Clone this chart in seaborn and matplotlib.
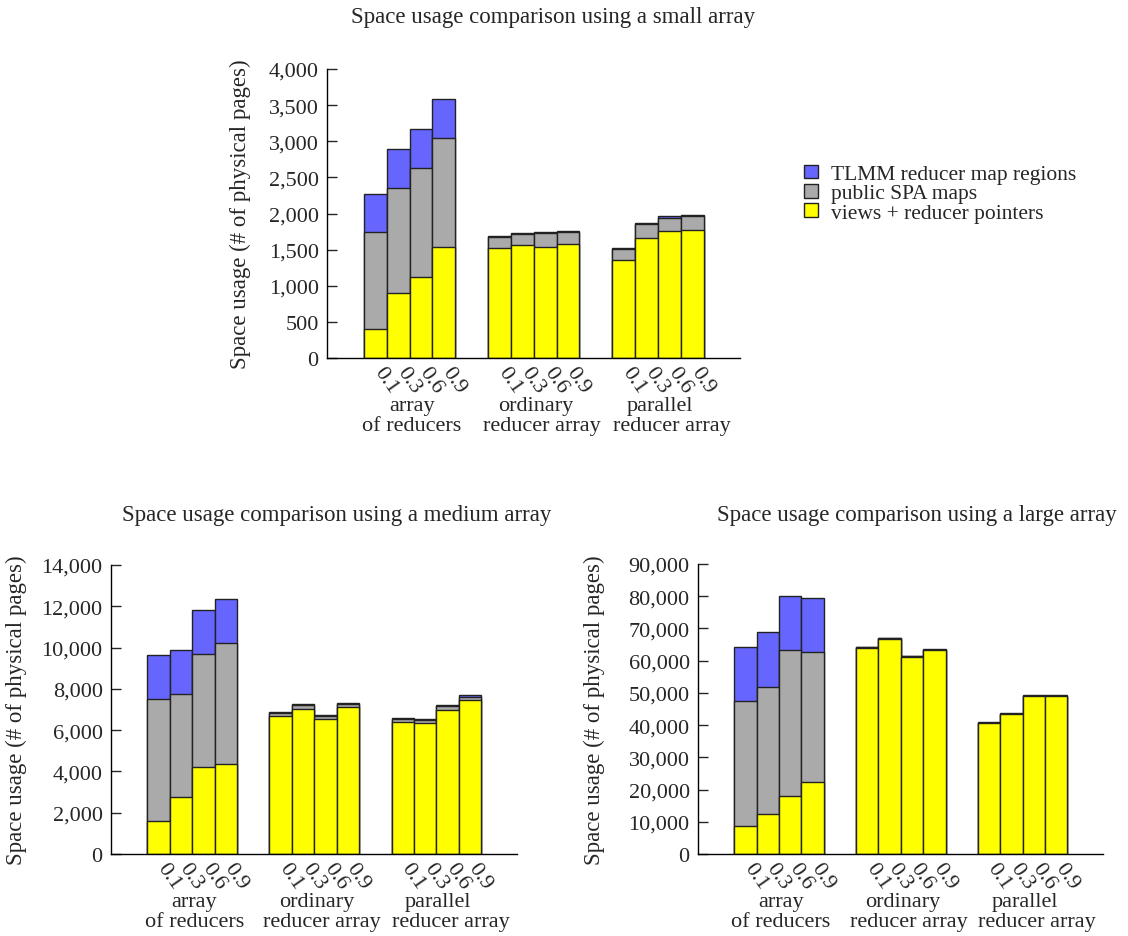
import matplotlib
matplotlib.use("Agg")
import matplotlib.pyplot as plt
import seaborn as sns
import pandas as pd
from matplotlib.patches import Patch

sns.set_style("white")
plt.rcParams["font.family"] = ["Liberation Serif", "DejaVu Serif"]

GROUPS = ["array\nof reducers", "ordinary\nreducer array", "parallel\nreducer array"]
FRACTIONS = ["0.1", "0.3", "0.6", "0.9"]
LAYERS = ["views + reducer pointers", "public SPA maps", "TLMM reducer map regions"]
COLORS = {"views + reducer pointers": "#ffff00",
          "public SPA maps": "#aaaaaa",
          "TLMM reducer map regions": "#6666ff"}

# values per group, per fraction (0.1, 0.3, 0.6, 0.9)
small_views = [[396, 903, 1120, 1539], [1516, 1558, 1535, 1581], [1350, 1659, 1751, 1774]]
small_spa = [[1346, 1447, 1507, 1502], [157, 161, 198, 161], [162, 189, 189, 194]]
small_tlmm = [[530, 544, 543, 549], [18, 18, 14, 18], [13, 18, 19, 18]]

medium_views = [[1597, 2758, 4226, 4339], [6677, 7032, 6532, 7097], [6387, 6355, 7000, 7452]]
medium_spa = [[5903, 4984, 5451, 5871], [146, 178, 162, 177], [145, 145, 161, 161]]
medium_tlmm = [[2129, 2129, 2146, 2129], [48, 48, 32, 65], [49, 48, 65, 81]]

large_views = [[8710, 12339, 18145, 22396], [64078, 66878, 61279, 63249], [40541, 43341, 48940, 48940]]
large_spa = [[38675, 39401, 45104, 40231], [160, 110, 110, 160], [160, 160, 160, 160]]
large_tlmm = [[17004, 17004, 16901, 16901], [150, 100, 100, 150], [150, 150, 150, 150]]

# title, data, y max, y step, axes box (px: left, top, right, bottom), title pos, ylabel right edge
PANELS = [
    ("Space usage comparison using a small array", small_views, small_spa, small_tlmm,
     4000, 500, [327, 70, 740, 359], (553, 18), 251),
    ("Space usage comparison using a medium array", medium_views, medium_spa, medium_tlmm,
     14000, 2000, [111, 566, 517, 855], (337, 516), 27),
    ("Space usage comparison using a large array", large_views, large_spa, large_tlmm,
     90000, 10000, [698, 565, 1103, 855], (917, 516), 605),
]
# second line of the group labels sits a little right of the group centre
LINE2_SHIFT = [2, 8, 14]

W, H = 1128, 937
fig = plt.figure(figsize=(W / 100, H / 100), dpi=100)


def to_frame(views, spa, tlmm):
    rows = []
    for gi, g in enumerate(GROUPS):
        for fi, f in enumerate(FRACTIONS):
            v, s, t = views[gi][fi], spa[gi][fi], tlmm[gi][fi]
            rows.append({"group": g, "fraction": f,
                         "views + reducer pointers": v,
                         "public SPA maps": v + s,
                         "TLMM reducer map regions": v + s + t})
    return pd.DataFrame(rows)


for title, views, spa, tlmm, ymax, ystep, box, tpos, ylab_x in PANELS:
    l, t, r, b = box
    ax = fig.add_axes([l / W, 1 - b / H, (r - l) / W, (b - t) / H])
    df = to_frame(views, spa, tlmm)
    # draw cumulative layers from the top down so lower layers sit in front
    for layer in reversed(LAYERS):
        sns.barplot(data=df, x="group", y=layer, hue="fraction", hue_order=FRACTIONS,
                    order=GROUPS, palette=[COLORS[layer]] * 4, width=0.734, gap=0,
                    edgecolor="#222222", linewidth=1.0, legend=False, ax=ax,
                    errorbar=None, saturation=1)
    centers = sorted(p.get_x() + p.get_width() / 2 for p in ax.patches[-12:])
    ax.set_xticks([])
    # rotated fraction labels under each bar
    for c, lab in zip(centers, FRACTIONS * 3):
        ax.annotate(lab, xy=(c, 0), xycoords=("data", "axes fraction"),
                    xytext=(10, -5), textcoords="offset pixels", rotation=-55,
                    rotation_mode="anchor", ha="left", va="top", fontsize=16)
    for gi, g in enumerate(GROUPS):
        line1, line2 = g.split("\n")
        ax.annotate(line1, xy=(gi, 0), xycoords=("data", "axes fraction"),
                    xytext=(2, -38), textcoords="offset pixels",
                    ha="center", va="top", fontsize=16)
        ax.annotate(line2, xy=(gi, 0), xycoords=("data", "axes fraction"),
                    xytext=(LINE2_SHIFT[gi], -58), textcoords="offset pixels",
                    ha="center", va="top", fontsize=16)
    ax.set_xlim(-0.665, 2.66)
    ax.set_ylim(0, ymax)
    ax.set_yticks(range(0, ymax + 1, ystep))
    ax.set_yticklabels([f"{v:,}" for v in range(0, ymax + 1, ystep)], fontsize=16)
    ax.tick_params(axis="y", direction="in", length=7, width=1, left=True, pad=6)
    ax.set_xlabel("")
    ax.set_ylabel("Space usage (# of physical pages)", fontsize=16.5)
    ax.yaxis.set_label_coords((ylab_x - l) / (r - l), 0.5)
    sns.despine(ax=ax)
    for s in ["left", "bottom"]:
        ax.spines[s].set_color("black")
        ax.spines[s].set_linewidth(1)
    fig.text(tpos[0] / W, 1 - tpos[1] / H, title, ha="center", va="center", fontsize=16.5)

handles = [Patch(facecolor=COLORS[k], edgecolor="#222222", label=k) for k in reversed(LAYERS)]
fig.legend(handles=handles, loc="upper left", bbox_to_anchor=(795 / W, 1 - 157 / H),
           frameon=False, fontsize=15.5, handlelength=0.65, handleheight=0.6,
           handletextpad=0.6, labelspacing=0.0, borderaxespad=0)

fig.savefig("out.png", dpi=100)
